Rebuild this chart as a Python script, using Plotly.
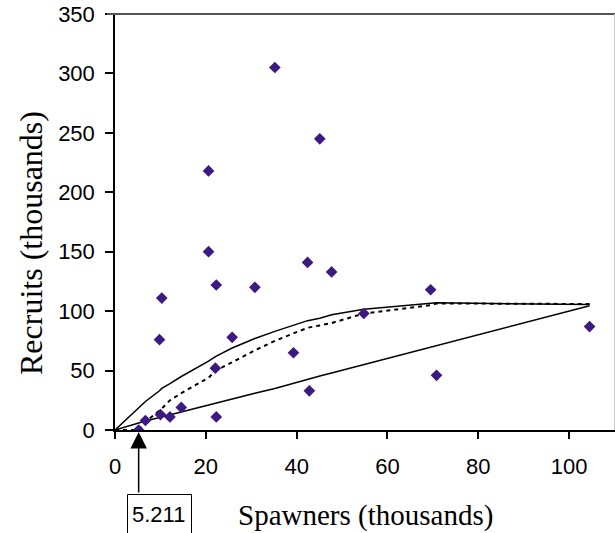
import plotly.graph_objects as go

# ---- data (thousands) ----
spawners = [5.211, 6.7, 10.0, 12.1, 14.6, 22.3, 22.1, 9.8, 10.3, 22.3, 30.8, 25.8,
            39.3, 42.8, 69.5, 54.8, 70.8, 104.5, 20.6, 20.6, 35.2, 45.1, 42.4, 47.7]
recruits = [0, 8, 13, 11, 19, 11, 52, 76, 111, 122, 120, 78,
            65, 33, 118, 98, 46, 87, 218, 150, 305, 245, 141, 133]

curve_x = [0, 5.2, 6.7, 9.8, 10.3, 12.1, 14.6, 20.6, 22.2, 25.8, 30.8, 35.2,
           39.3, 42.4, 45.1, 47.7, 54.8, 69.5, 70.8, 104.5]
upper_y = [0, 19, 24, 33, 35, 39, 45, 58, 62, 69, 77, 83,
           88, 92, 94, 97, 101.5, 107, 107, 105.5]
lower_y = [0, 6, 7.5, 10.5, 11, 12.5, 15.5, 21, 22.7, 26, 31, 35,
           39.5, 43, 45.5, 48, 55, 70, 70.8, 104.5]
fit_x = [0, 5.2, 6.7, 9.8, 10.3, 12.1, 14.6, 20.6, 22.2, 25.8, 30.8, 35.2,
         39.3, 42.4, 45.1, 47.7, 54.8, 69.5, 70.8, 104.5]
fit_y = [0, 0, 7, 16, 18, 25, 31, 44, 50, 57, 67, 75,
         81, 86, 88, 90, 98, 105, 106.5, 106]

x_ticks = [0, 20, 40, 60, 80, 100]
y_ticks = [0, 50, 100, 150, 200, 250, 300, 350]
marker_label = "5.211"

W, H = 615, 533
L, R, T, B = 115, 0, 14, 103
PW, PH = W - L - R, H - T - B


def px(xp):
    return (xp - L) / PW


def py(yp):
    return (H - B - yp) / PH


fig = go.Figure()
fig.add_trace(go.Scatter(x=curve_x, y=upper_y, mode="lines",
                         line=dict(color="black", width=1.5), hoverinfo="skip"))
fig.add_trace(go.Scatter(x=curve_x, y=lower_y, mode="lines",
                         line=dict(color="black", width=1.5), hoverinfo="skip"))
fig.add_trace(go.Scatter(x=fit_x, y=fit_y, mode="lines",
                         line=dict(color="black", width=2, dash="4px,4px"), hoverinfo="skip"))
fig.add_trace(go.Scatter(x=spawners, y=recruits, mode="markers",
                         marker=dict(symbol="diamond", size=9, color="#3d1a82",
                                     line=dict(width=0))))

tickfont = dict(family="Liberation Sans, Arial", size=22, color="black")
fig.update_xaxes(range=[0, 110.1], tickvals=x_ticks, ticks="outside", ticklen=7,
                 tickwidth=1.5, tickcolor="black", showline=True, linecolor="black",
                 linewidth=1.5, showgrid=False, zeroline=False, tickfont=tickfont,
                 ticklabelstandoff=9)
fig.update_yaxes(range=[0, 350], tickvals=y_ticks, ticks="outside", ticklen=8,
                 tickwidth=1.5, tickcolor="black", showline=True, linecolor="black",
                 linewidth=1.5, showgrid=False, zeroline=False, tickfont=tickfont,
                 ticklabelstandoff=6)

shapes = [
    dict(type="line", xref="paper", yref="paper", x0=px(107), x1=1, y0=1, y1=1,
         line=dict(color="#555555", width=2)),
    dict(type="line", xref="paper", yref="paper", x0=px(614.5), x1=px(614.5), y0=0, y1=1,
         line=dict(color="#cccccc", width=1)),
    dict(type="rect", xref="paper", yref="paper", x0=px(127.5), x1=px(191.5),
         y0=py(494.5), y1=py(545), line=dict(color="black", width=1),
         fillcolor="white", layer="above"),
]

annotations = [
    dict(text="Spawners (thousands)", xref="paper", yref="paper", x=px(365), y=py(515),
         xanchor="center", yanchor="middle", showarrow=False,
         font=dict(family="Liberation Serif, Times New Roman", size=29, color="black")),
    dict(text="Recruits (thousands)", xref="paper", yref="paper", x=px(31), y=py(243),
         xanchor="center", yanchor="middle", textangle=-90, showarrow=False,
         font=dict(family="Liberation Serif, Times New Roman", size=32, color="black")),
    dict(text="", x=5.211, xref="x", y=py(432), yref="paper", showarrow=True,
         ax=0, ay=62, arrowhead=2, arrowsize=2.2, arrowwidth=1.5, arrowcolor="black"),
    dict(text=marker_label, xref="paper", yref="paper", x=px(158.5), y=py(514),
         xanchor="center", yanchor="middle", showarrow=False,
         font=dict(family="Liberation Sans, Arial", size=22, color="black")),
]

fig.update_layout(width=W, height=H, margin=dict(l=L, r=R, t=T, b=B),
                  plot_bgcolor="white", paper_bgcolor="white", showlegend=False,
                  shapes=shapes, annotations=annotations)
fig.write_html("out.html")
